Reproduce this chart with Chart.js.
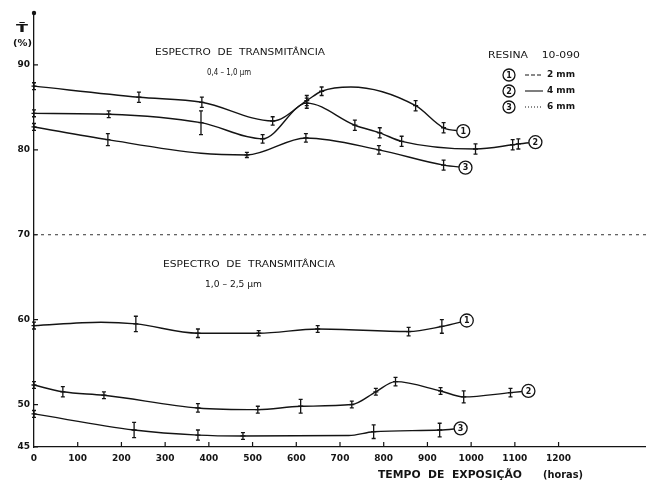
<!DOCTYPE html>
<html>
<head>
<meta charset="utf-8">
<script src="https://cdn.jsdelivr.net/npm/chart.js@4.4.1/dist/chart.umd.min.js"></script>
<style>
  body { margin: 0; background: #fff; }
  canvas { display: block; }
</style>
</head>
<body>
<canvas id="chart_resina" width="646" height="485"></canvas>
<script>
// Axis ticks
const xTickValues = [0, 100, 200, 300, 400, 500, 600, 700, 800, 900, 1000, 1100, 1200];
const yTickValues = [45, 50, 60, 70, 80, 90];

// 0,4 - 1,0 um, hours / transmittance / error half-width (0 = no bar drawn)
const visHours1  = [0, 240, 384, 546, 624, 658, 725, 873, 937, 982];
const visValues1 = [87.5, 86.2, 85.6, 83.4, 85.8, 86.9, 87.4, 85.2, 82.6, 82.2];
const visErr1    = [0.4, 0.6, 0.6, 0.5, 0.6, 0.5, 0, 0.6, 0.6, 0];

const visHours2  = [0, 171, 382, 523, 624, 734, 791, 841, 1010, 1095, 1108, 1147];
const visValues2 = [84.3, 84.2, 83.2, 81.3, 85.5, 82.9, 82.0, 81.0, 80.1, 80.6, 80.7, 80.9];
const visErr2    = [0.4, 0.4, 1.4, 0.5, 0.6, 0.6, 0.6, 0.6, 0.6, 0.6, 0.6, 0];

const visHours3  = [0, 169, 382, 487, 622, 789, 937, 987];
const visValues3 = [82.7, 81.2, 79.6, 79.4, 81.4, 80.0, 78.2, 77.9];
const visErr3    = [0.4, 0.7, 0, 0.3, 0.5, 0.5, 0.6, 0];

// 1,0 - 2,5 um
const irHours1  = [0, 153, 233, 375, 514, 649, 857, 933, 990];
const irValues1 = [59.3, 59.7, 59.5, 58.4, 58.4, 58.9, 58.6, 59.2, 59.9];
const irErr1    = [0.4, 0, 0.9, 0.5, 0.3, 0.4, 0.5, 0.8, 0];

const irHours2  = [0, 66, 160, 375, 512, 610, 727, 782, 827, 930, 983, 1090, 1131];
const irValues2 = [52.3, 51.5, 51.1, 49.6, 49.4, 49.8, 50.0, 51.5, 52.7, 51.6, 50.9, 51.4, 51.6];
const irErr2    = [0.4, 0.6, 0.4, 0.5, 0.4, 0.8, 0.4, 0.4, 0.5, 0.4, 0.7, 0.5, 0];

const irHours3  = [0, 229, 375, 478, 720, 777, 928, 976];
const irValues3 = [48.9, 47.0, 46.4, 46.3, 46.35, 46.8, 47.0, 47.2];
const irErr3    = [0.4, 0.9, 0.6, 0.4, 0, 0.8, 0.8, 0];

const seriesLabels = ['1', '2', '3', '1', '2', '3'];
const legendLabels = ['2 mm', '4 mm', '6 mm'];

const INK = '#141414';

function series(hours, values) {
    return hours.map((h, i) => ({x: h, y: values[i]}));
}

const allErrors = [visErr1, visErr2, visErr3, irErr1, irErr2, irErr3];

function fitText(ctx, text, x, y, width, font) {
    ctx.save();
    ctx.font = font;
    ctx.textAlign = 'left';
    ctx.textBaseline = 'middle';
    const w = ctx.measureText(text).width;
    ctx.translate(x, y);
    ctx.scale(width / w, 1);
    ctx.fillText(text, 0, 0);
    ctx.restore();
}

function circled(ctx, x, y, r, text) {
    ctx.save();
    ctx.beginPath();
    ctx.arc(x, y, r, 0, Math.PI * 2);
    ctx.fillStyle = '#fff';
    ctx.fill();
    ctx.lineWidth = 1.3;
    ctx.strokeStyle = INK;
    ctx.stroke();
    ctx.fillStyle = INK;
    ctx.font = 'bold 8px "DejaVu Sans"';
    ctx.textAlign = 'center';
    ctx.textBaseline = 'middle';
    ctx.fillText(text, x, y + 0.5);
    ctx.restore();
}

const decorations = {
    id: 'decorations',
    beforeDatasetsDraw(chart) {
        const {ctx, chartArea, scales: {x, y}} = chart;
        ctx.save();
        // dotted line at 70 %
        const y70 = y.getPixelForValue(70);
        ctx.strokeStyle = '#333';
        ctx.lineWidth = 1;
        ctx.setLineDash([3, 4]);
        ctx.beginPath();
        ctx.moveTo(chartArea.left, y70);
        ctx.lineTo(chartArea.right, y70);
        ctx.stroke();
        ctx.setLineDash([]);

        // tick marks: up from the x axis, right of the y axis
        ctx.strokeStyle = INK;
        ctx.lineWidth = 1.2;
        ctx.beginPath();
        xTickValues.slice(1).forEach(v => {
            const px = x.getPixelForValue(v);
            ctx.moveTo(px, chartArea.bottom);
            ctx.lineTo(px, chartArea.bottom - 5);
        });
        yTickValues.forEach(v => {
            const py = y.getPixelForValue(v);
            ctx.moveTo(chartArea.left, py);
            ctx.lineTo(chartArea.left + 4, py);
        });
        ctx.stroke();

        // knob at the top of the y axis
        ctx.fillStyle = INK;
        ctx.beginPath();
        ctx.arc(chartArea.left, chartArea.top - 1, 2.2, 0, Math.PI * 2);
        ctx.fill();
        ctx.restore();
    },
    afterDatasetsDraw(chart) {
        const {ctx, scales: {x, y}} = chart;
        ctx.save();
        ctx.strokeStyle = INK;
        ctx.fillStyle = INK;
        ctx.lineWidth = 1.3;

        // error bars
        chart.data.datasets.forEach((ds, i) => {
            const errs = allErrors[i];
            ds.data.forEach((p, j) => {
                if (!errs[j]) return;
                const px = x.getPixelForValue(p.x);
                const top = y.getPixelForValue(p.y + errs[j]);
                const bot = y.getPixelForValue(p.y - errs[j]);
                ctx.beginPath();
                ctx.moveTo(px, top);
                ctx.lineTo(px, bot);
                ctx.moveTo(px - 2, top);
                ctx.lineTo(px + 2, top);
                ctx.moveTo(px - 2, bot);
                ctx.lineTo(px + 2, bot);
                ctx.moveTo(px - 2.5, y.getPixelForValue(p.y));
                ctx.lineTo(px + 2.5, y.getPixelForValue(p.y));
                ctx.stroke();
            });
        });

        // circled numbers at the end of each curve
        chart.data.datasets.forEach((ds, i) => {
            const last = ds.data[ds.data.length - 1];
            circled(ctx, x.getPixelForValue(last.x), y.getPixelForValue(last.y), 6.5, seriesLabels[i]);
        });

        // text blocks
        ctx.fillStyle = INK;
        fitText(ctx, 'ESPECTRO  DE  TRANSMITÂNCIA', 155, 53, 170, '8px "DejaVu Sans"');
        fitText(ctx, '0,4 – 1,0 µm', 207, 73, 44, '9px "DejaVu Sans"');
        fitText(ctx, 'ESPECTRO  DE  TRANSMITÂNCIA', 163, 265, 172, '8px "DejaVu Sans"');
        fitText(ctx, '1,0 – 2,5 µm', 205, 285, 57, '9px "DejaVu Sans"');
        fitText(ctx, 'RESINA    10-090', 488, 56, 92, '8px "DejaVu Sans"');
        fitText(ctx, 'TEMPO  DE  EXPOSIÇÃO', 378, 475, 144, 'bold 11px "DejaVu Sans"');
        fitText(ctx, '(horas)', 543, 475, 40, 'bold 10px "DejaVu Sans"');
        fitText(ctx, 'T̄', 16, 29, 12, 'bold 11px "DejaVu Sans"');
        fitText(ctx, '(%)', 13, 44, 19, 'bold 9px "DejaVu Sans"');

        // legend
        const dashes = [[4, 2], [], [1, 2]];
        legendLabels.forEach((label, i) => {
            const ly = 75 + i * 16;
            circled(ctx, 509, ly, 6, String(i + 1));
            ctx.save();
            ctx.strokeStyle = INK;
            ctx.lineWidth = 1.1;
            ctx.setLineDash(dashes[i]);
            ctx.beginPath();
            ctx.moveTo(525, ly);
            ctx.lineTo(543, ly);
            ctx.stroke();
            ctx.restore();
            fitText(ctx, label, 547, ly, 28, 'bold 8px "DejaVu Sans"');
        });
        ctx.restore();
    },
};

function lineDataset(hours, values) {
    return {
        data                  : series(hours, values),
        borderColor           : INK,
        borderWidth           : 1.4,
        pointRadius           : 0,
        fill                  : false,
        cubicInterpolationMode: 'monotone',
    };
}

new Chart(document.getElementById('chart_resina'), {
    type   : 'line',
    data   : {
        datasets: [
            lineDataset(visHours1, visValues1),
            lineDataset(visHours2, visValues2),
            lineDataset(visHours3, visValues3),
            lineDataset(irHours1, irValues1),
            lineDataset(irHours2, irValues2),
            lineDataset(irHours3, irValues3),
        ],
    },
    options: {
        responsive: false,
        animation : false,
        layout    : {padding: {top: 14, right: 0, left: 0, bottom: 0}},
        plugins   : {
            legend : {display: false},
            tooltip: {enabled: false},
        },
        scales    : {
            x: {
                type           : 'linear',
                min            : 0,
                max            : 1400,
                afterBuildTicks: scale => { scale.ticks = xTickValues.map(v => ({value: v})); },
                afterFit       : scale => { scale.height = 38; },
                grid           : {display: false, drawTicks: false},
                border         : {display: true, color: INK, width: 1.3},
                ticks          : {color: INK, padding: 6, maxRotation: 0, autoSkip: false,
                                  callback: v => String(v),
                                  font: {family: 'DejaVu Sans', size: 9, weight: 'bold'}},
            },
            y: {
                min            : 45,
                max            : 96,
                afterBuildTicks: scale => { scale.ticks = yTickValues.map(v => ({value: v})); },
                afterFit       : scale => { scale.width = 34; },
                grid           : {display: false, drawTicks: false},
                border         : {display: true, color: INK, width: 1.3},
                ticks          : {color: INK, padding: 4, autoSkip: false,
                                  font: {family: 'DejaVu Sans', size: 9, weight: 'bold'}},
            },
        },
    },
    plugins: [decorations],
});
</script>
</body>
</html>
